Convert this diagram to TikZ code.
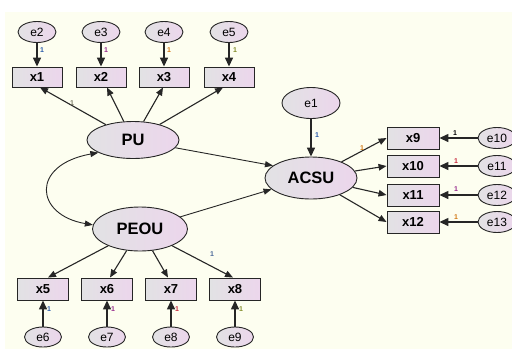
\documentclass[tikz,border=0pt]{standalone}
\usepackage{fontspec}
\setmainfont{Liberation Sans}
\usetikzlibrary{arrows.meta,shapes.geometric}
\definecolor{bgyellow}{RGB}{253,254,240}
\definecolor{gleft}{RGB}{226,226,228}
\definecolor{gright}{RGB}{236,214,236}
\definecolor{lblue}{RGB}{40,90,170}
\definecolor{lpurple}{RGB}{150,40,140}
\definecolor{lorange}{RGB}{210,120,20}
\definecolor{lolive}{RGB}{130,140,40}
\definecolor{lred}{RGB}{200,40,60}
\definecolor{lgray}{RGB}{120,120,100}
\tikzset{
  obs/.style={draw=black!85, line width=0.9pt, rectangle, minimum width=51pt, minimum height=21pt, inner sep=0pt,
    left color=gleft, right color=gright, font=\fontsize{13}{14}\selectfont\bfseries},
  err/.style={draw=black!85, line width=0.9pt, ellipse, minimum width=38pt, minimum height=21pt, inner sep=0pt,
    left color=gleft, right color=gright, font=\fontsize{12}{13}\selectfont},
  lat/.style={draw=black!85, line width=0.9pt, ellipse, inner sep=0pt,
    left color=gleft, right color=gright, font=\fontsize{16.5}{18}\selectfont\bfseries},
  earrow/.style={draw=black!85, line width=1.4pt, -{Triangle[length=9pt,width=8pt]}},
  parrow/.style={draw=black!85, line width=1.1pt, -{Triangle[length=8pt,width=6.5pt]}},
  sarrow/.style={draw=black!85, line width=0.9pt, -{Triangle[length=8pt,width=6pt]}},
  one/.style={font=\fontsize{7}{7}\selectfont\bfseries, inner sep=0pt}
}
\begin{document}
\begin{tikzpicture}[x=1pt,y=-1pt]
\useasboundingbox (0,0) rectangle (512,349);
\fill[white] (0,0) rectangle (512,349);
\fill[bgyellow] (5,12) rectangle (512,349);

% latent
\node[lat, minimum width=92pt, minimum height=37pt] (PU) at (133,140) {PU};
\node[lat, minimum width=95pt, minimum height=44pt] (PEOU) at (140,229) {PEOU};
\node[lat, minimum width=92pt, minimum height=42pt] (ACSU) at (311,178) {ACSU};
\node[err, minimum width=58pt, minimum height=31pt] (e1) at (311,103) {e1};

% top indicators
\node[obs, minimum width=50pt, minimum height=20pt] (x1) at (37,77) {x1};
\node[obs, minimum width=50pt, minimum height=20pt] (x2) at (101,77) {x2};
\node[obs, minimum width=50pt, minimum height=20pt] (x3) at (164,77) {x3};
\node[obs, minimum width=50pt, minimum height=20pt] (x4) at (229,77) {x4};
\node[err] (e2) at (37,32) {e2};
\node[err] (e3) at (101,32) {e3};
\node[err] (e4) at (164,32) {e4};
\node[err] (e5) at (229,32) {e5};

% right indicators
\node[obs, minimum width=52pt, minimum height=22pt] (x9) at (413,138) {x9};
\node[obs, minimum width=52pt, minimum height=22pt] (x10) at (413,166) {x10};
\node[obs, minimum width=52pt, minimum height=22pt] (x11) at (413,195) {x11};
\node[obs, minimum width=52pt, minimum height=22pt] (x12) at (413,222) {x12};
\node[err] (e10) at (497,138) {e10};
\node[err] (e11) at (497,166) {e11};
\node[err] (e12) at (497,195) {e12};
\node[err] (e13) at (497,222) {e13};

% bottom indicators
\node[obs, minimum height=22pt] (x5) at (43,289) {x5};
\node[obs, minimum height=22pt] (x6) at (107,289) {x6};
\node[obs, minimum height=22pt] (x7) at (171,289) {x7};
\node[obs, minimum height=22pt] (x8) at (235,289) {x8};
\node[err, minimum width=37pt, minimum height=20pt] (e6) at (43,337) {e6};
\node[err, minimum width=37pt, minimum height=20pt] (e7) at (107,337) {e7};
\node[err, minimum width=37pt, minimum height=20pt] (e8) at (171,337) {e8};
\node[err, minimum width=37pt, minimum height=20pt] (e9) at (235,337) {e9};

% error arrows top
\foreach \e/\x in {e2/x1,e3/x2,e4/x3,e5/x4}{\draw[earrow] (\e) -- (\x);}
% PU loadings
\draw[parrow] (PU) -- ([xshift=3pt]x1.south);
\draw[parrow] (PU) -- ([xshift=6pt]x2.south);
\draw[parrow] (PU) -- ([xshift=-1pt]x3.south);
\draw[parrow] (PU) -- ([xshift=-6pt]x4.south);
% PEOU loadings
\draw[parrow] (PEOU) -- ([xshift=5pt]x5.north);
\draw[parrow] (PEOU) -- ([xshift=3pt]x6.north);
\draw[parrow] (PEOU) -- ([xshift=-3pt]x7.north);
\draw[parrow] (PEOU) -- ([xshift=-2pt]x8.north);
% bottom error arrows
\foreach \e/\x in {e6/x5,e7/x6,e8/x7,e9/x8}{\draw[earrow] (\e) -- (\x);}
% ACSU loadings
\foreach \x in {x9,x10,x11,x12}{\draw[parrow] (ACSU) -- (\x.west);}
\foreach \e/\x in {e10/x9,e11/x10,e12/x11,e13/x12}{\draw[earrow] (\e) -- (\x);}
% structural
\draw[earrow] (e1) -- (ACSU);
\draw[sarrow] (PU) -- (ACSU.162);
\draw[sarrow] (PEOU) -- (ACSU.196);
\draw[draw=black!85, line width=0.9pt, {Triangle[length=8pt,width=6pt]}-{Triangle[length=8pt,width=6pt]}]
  (PU.200) .. controls (30,165) and (35,215) .. (PEOU.175);

% labels
\node[one, text=lblue] (l1) at (42,50) {1};
\node[one, text=lpurple] (l2) at (106,50) {1};
\node[one, text=lorange] (l3) at (169,50) {1};
\node[one, text=lolive] (l4) at (235,50) {1};
\node[one, text=lgray] (l5) at (72,103) {1};
\node[one, text=lblue] (l6) at (317,135) {1};
\node[one, text=lorange] (l7) at (362,148) {1};
\node[one, text=black] (l8) at (455,133) {1};
\node[one, text=lred] (l9) at (456,161) {1};
\node[one, text=lpurple] (l10) at (456,189) {1};
\node[one, text=lorange] (l11) at (456,217) {1};
\node[one, text=lblue] (l12) at (49,309) {1};
\node[one, text=lpurple] (l13) at (113,309) {1};
\node[one, text=lred] (l14) at (177,309) {1};
\node[one, text=lolive] (l15) at (241,309) {1};
\node[one, text=lblue!60!gray] (l16) at (212,254) {1};
\end{tikzpicture}
\end{document}
